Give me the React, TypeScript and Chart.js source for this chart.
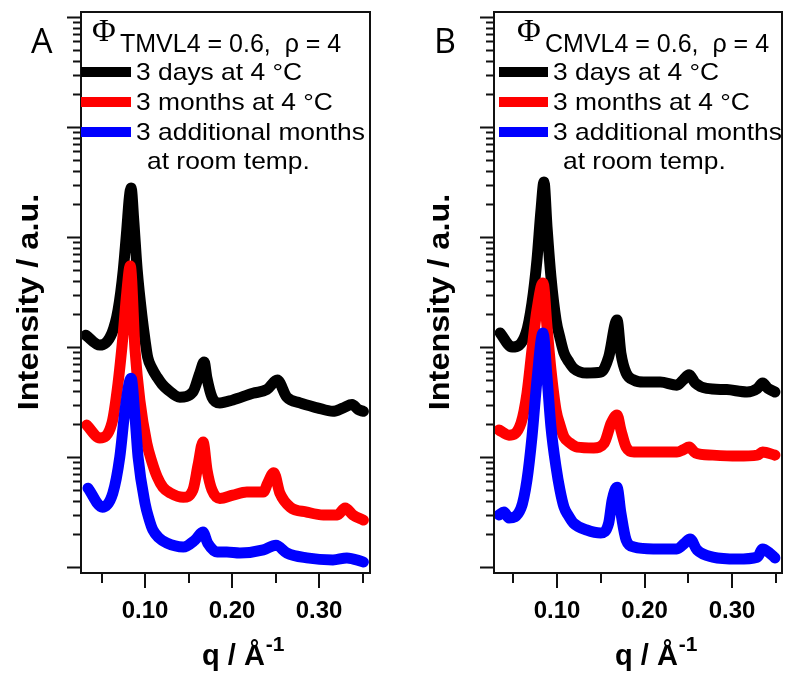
import React, { useEffect, useRef } from "react";
import { Chart, registerables } from "chart.js";

Chart.register(...registerables);

const W = 787;
const H = 673;

// ---------- Data (q in 1/Å, intensity in a.u., log scale) ----------
// Panel A  (Φ TMVL4)
const Q_BLACK_A = [0.032, 0.048, 0.062, 0.069, 0.075, 0.079, 0.082, 0.084, 0.087, 0.091, 0.097, 0.100, 0.103, 0.108, 0.114, 0.1195, 0.126, 0.140, 0.155, 0.163, 0.168, 0.171, 0.177, 0.186, 0.201, 0.224, 0.240, 0.252, 0.263, 0.278, 0.298, 0.316, 0.328, 0.338, 0.345, 0.351];
const I_BLACK_A = [128, 104, 134, 217, 501, 1160, 2310, 2790, 1430, 501, 176, 116, 81, 64, 53, 46, 41, 35, 39, 58, 73, 53, 35, 31, 33, 38, 41, 50, 35, 31, 28, 26, 28, 30, 27, 26];

const Q_RED_A = [0.033, 0.048, 0.062, 0.069, 0.075, 0.079, 0.083, 0.0885, 0.094, 0.102, 0.108, 0.114, 0.1207, 0.129, 0.144, 0.155, 0.161, 0.1667, 0.1713, 0.177, 0.186, 0.201, 0.217, 0.236, 0.241, 0.248, 0.255, 0.267, 0.286, 0.305, 0.321, 0.330, 0.339, 0.351];
const I_RED_A = [19.5, 14.9, 20.4, 47, 134, 310, 545, 94, 33, 13.4, 9.0, 6.6, 5.3, 4.7, 4.3, 5.0, 8.5, 13.7, 7.6, 5.0, 4.2, 4.5, 4.8, 4.8, 5.8, 7.2, 4.7, 3.5, 3.16, 2.97, 2.97, 3.44, 2.97, 2.67];

const Q_BLUE_A = [0.0345, 0.051, 0.063, 0.071, 0.077, 0.084, 0.0885, 0.092, 0.100, 0.1046, 0.109, 0.116, 0.125, 0.144, 0.1575, 0.1665, 0.172, 0.183, 0.194, 0.209, 0.236, 0.2505, 0.263, 0.286, 0.316, 0.332, 0.351];
const I_BLUE_A = [5.2, 3.5, 4.7, 10, 26.7, 52, 23, 10, 3.8, 2.73, 2.17, 1.84, 1.65, 1.52, 1.76, 2.08, 1.65, 1.37, 1.37, 1.34, 1.43, 1.58, 1.34, 1.21, 1.16, 1.21, 1.11];

// Panel B  (Φ CMVL4)
const Q_BLACK_B = [0.035, 0.0486, 0.0646, 0.0714, 0.0771, 0.0817, 0.0851, 0.0886, 0.0931, 0.0989, 0.1034, 0.108, 0.1137, 0.119, 0.134, 0.150, 0.159, 0.1686, 0.173, 0.179, 0.188, 0.199, 0.218, 0.237, 0.244, 0.251, 0.258, 0.271, 0.294, 0.317, 0.329, 0.335, 0.341, 0.349];
const I_BLACK_B = [134, 100, 134, 251, 618, 1760, 3160, 1230, 433, 176, 121, 88, 73, 64, 58, 59, 81, 176, 88, 58, 50, 48, 48, 45, 50, 56, 47, 42, 41, 39, 42, 47, 42, 39];

const Q_RED_B = [0.0337, 0.0451, 0.0589, 0.0657, 0.0714, 0.0771, 0.084, 0.0886, 0.0931, 0.0989, 0.1034, 0.108, 0.1149, 0.123, 0.142, 0.154, 0.162, 0.1686, 0.173, 0.179, 0.188, 0.210, 0.237, 0.244, 0.251, 0.258, 0.278, 0.306, 0.329, 0.335, 0.349];
const I_RED_B = [17.6, 15.8, 20.4, 38, 94, 217, 382, 152, 62, 26.7, 19.5, 15.2, 13.4, 12.3, 12.1, 13.4, 20.4, 24.1, 17.6, 12.3, 11.1, 11.1, 11.1, 11.6, 12.3, 10.9, 10.4, 10.2, 10.4, 11.1, 10.4];

const Q_BLUE_B = [0.0337, 0.0394, 0.0451, 0.0589, 0.0657, 0.0714, 0.0771, 0.084, 0.0886, 0.0931, 0.0989, 0.1034, 0.108, 0.1126, 0.119, 0.134, 0.150, 0.159, 0.163, 0.1686, 0.173, 0.179, 0.188, 0.210, 0.237, 0.246, 0.252, 0.260, 0.278, 0.306, 0.329, 0.335, 0.343, 0.349];
const I_BLUE_B = [2.97, 3.16, 2.79, 3.44, 6.2, 15.2, 50, 134, 53, 18.7, 8.1, 5.0, 3.5, 2.97, 2.5, 2.17, 2.04, 2.5, 4.06, 5.3, 3.1, 1.76, 1.52, 1.46, 1.46, 1.65, 1.8, 1.43, 1.23, 1.18, 1.23, 1.46, 1.34, 1.21];

const SERIES_LABELS = ["3 days at 4 °C", "3 months at 4 °C", "3 additional months"];
const SERIES_LABEL_CONT = "at room temp.";
const SERIES_COLORS = ["#000000", "#ff0000", "#0000ff"];

const X_MAJOR = [0.1, 0.2, 0.3];
const X_MAJOR_LABELS = ["0.10", "0.20", "0.30"];
const X_MINOR = [0.05, 0.15, 0.25, 0.35];
const Y_DECADES = [0, 1, 2, 3, 4, 5];
const Y_MIN = 0.882;
const Y_MAX = 111000;

const SANS = "'Liberation Sans', Arial, Helvetica, sans-serif";
const SERIF = "'Liberation Serif', 'Times New Roman', serif";

type Panel = {
  letter: string;
  sub: string;
  area: { l: number; r: number; t: number; b: number };
  xMin: number;
  xMax: number;
  q: number[][];
  v: number[][];
  letterX: number;
  yTitleX: number;
  xTitleX: number;
  phiX: number;
  subX: number;
  legLine: [number, number];
  legTextX: number;
  roomX: number;
};

const PANELS: Panel[] = [
  {
    letter: "A",
    sub: "TMVL4 = 0.6,  ρ = 4",
    area: { l: 81, r: 370, t: 12, b: 573 },
    xMin: 0.0264,
    xMax: 0.3586,
    q: [Q_BLACK_A, Q_RED_A, Q_BLUE_A],
    v: [I_BLACK_A, I_RED_A, I_BLUE_A],
    letterX: 31,
    yTitleX: 30,
    xTitleX: 202,
    phiX: 92,
    subX: 120,
    legLine: [81, 131],
    legTextX: 136,
    roomX: 147,
  },
  {
    letter: "B",
    sub: "CMVL4 = 0.6,  ρ = 4",
    area: { l: 494, r: 782, t: 12, b: 573 },
    xMin: 0.028,
    xMax: 0.3571,
    q: [Q_BLACK_B, Q_RED_B, Q_BLUE_B],
    v: [I_BLACK_B, I_RED_B, I_BLUE_B],
    letterX: 434,
    yTitleX: 441,
    xTitleX: 615,
    phiX: 517,
    subX: 545,
    legLine: [499, 548],
    legTextX: 553,
    roomX: 563,
  },
];

function drawText(
  ctx: CanvasRenderingContext2D,
  s: string,
  x: number,
  y: number,
  font: string,
  align: CanvasTextAlign = "left",
  sx = 1,
  rot = 0,
  baseline: CanvasTextBaseline = "alphabetic"
) {
  ctx.save();
  ctx.font = font;
  ctx.fillStyle = "#000";
  ctx.textAlign = align;
  ctx.textBaseline = baseline;
  ctx.translate(x, y);
  if (rot) ctx.rotate(rot);
  ctx.scale(sx, 1);
  ctx.fillText(s, 0, 0);
  ctx.restore();
}

function makeDecor(p: Panel) {
  return {
    id: "decor" + p.letter,
    afterDraw(chart: any) {
      const ctx: CanvasRenderingContext2D = chart.ctx;
      const xs = chart.scales.x;
      const ys = chart.scales.y;
      const a = chart.chartArea;
      ctx.save();
      ctx.strokeStyle = "#111";
      ctx.lineWidth = 2;
      ctx.strokeRect(a.left, a.top, a.right - a.left, a.bottom - a.top);

      // y ticks (log)
      ctx.beginPath();
      for (const d of Y_DECADES) {
        for (let m = 1; m <= 9; m++) {
          const val = m * Math.pow(10, d);
          if (val < Y_MIN || val > Y_MAX) continue;
          const y = Math.round(ys.getPixelForValue(val)) + 0.5;
          const len = m === 1 ? 14 : 8;
          ctx.moveTo(a.left - len, y);
          ctx.lineTo(a.left, y);
        }
      }
      // x ticks
      for (const t of X_MAJOR) {
        const x = Math.round(xs.getPixelForValue(t));
        ctx.moveTo(x, a.bottom);
        ctx.lineTo(x, a.bottom + 15);
      }
      for (const t of X_MINOR) {
        const x = Math.round(xs.getPixelForValue(t));
        ctx.moveTo(x, a.bottom);
        ctx.lineTo(x, a.bottom + 10);
      }
      ctx.stroke();
      ctx.restore();

      // x tick labels
      X_MAJOR.forEach((t, i) => {
        drawText(ctx, X_MAJOR_LABELS[i], xs.getPixelForValue(t), 618, `bold 24px ${SANS}`, "center");
      });

      // x title
      ctx.save();
      ctx.font = `bold 29px ${SANS}`;
      const base = "q / Å";
      const wBase = ctx.measureText(base).width;
      ctx.restore();
      drawText(ctx, base, p.xTitleX, 665, `bold 29px ${SANS}`, "left");
      drawText(ctx, "-1", p.xTitleX + wBase + 1, 651, `bold 21px ${SANS}`, "left");

      // y title
      drawText(ctx, "Intensity / a.u.", p.yTitleX, 302, `bold 29px ${SANS}`, "center", 1.12, -Math.PI / 2, "middle");

      // panel letter
      drawText(ctx, p.letter, p.letterX, 53, `34px 'Open Sans', ${SANS}`, "left");

      // legend title
      drawText(ctx, "Φ", p.phiX, 41, `31px ${SERIF}`, "left", 1.05);
      drawText(ctx, p.sub, p.subX, 52, `25px ${SANS}`, "left");

      // legend lines and labels
      const rows = [72, 102, 132];
      rows.forEach((ry, i) => {
        ctx.save();
        ctx.strokeStyle = SERIES_COLORS[i];
        ctx.lineWidth = 10;
        ctx.lineCap = "butt";
        ctx.beginPath();
        ctx.moveTo(p.legLine[0], ry);
        ctx.lineTo(p.legLine[1], ry);
        ctx.stroke();
        ctx.restore();
        drawText(ctx, SERIES_LABELS[i], p.legTextX, ry + 8, `24px ${SANS}`, "left", 1.1);
      });
      drawText(ctx, SERIES_LABEL_CONT, p.roomX, 169, `24px ${SANS}`, "left", 1.1);
    },
  };
}

function PanelChart({ p }: { p: Panel }) {
  const ref = useRef<HTMLCanvasElement>(null);
  useEffect(() => {
    const canvas = ref.current!;
    const datasets = p.q.map((qs, i) => ({
      label: SERIES_LABELS[i],
      data: qs.map((q, j) => ({ x: q, y: p.v[i][j] })),
      borderColor: SERIES_COLORS[i],
      backgroundColor: SERIES_COLORS[i],
      borderWidth: 11,
      pointRadius: 0,
      fill: false,
      cubicInterpolationMode: "monotone" as const,
      borderCapStyle: "round" as const,
      borderJoinStyle: "round" as const,
      order: 3 - i,
    }));
    const chart = new Chart(canvas, {
      type: "line",
      data: { datasets },
      options: {
        responsive: false,
        animation: false,
        devicePixelRatio: 1,
        layout: { padding: { left: 0, top: p.area.t, right: W - p.area.r, bottom: 0 } },
        plugins: { legend: { display: false }, tooltip: { enabled: false } },
        scales: {
          x: {
            type: "linear",
            min: p.xMin,
            max: p.xMax,
            grid: { display: false },
            border: { display: false },
            ticks: { display: false },
            afterFit: (s: any) => {
              s.height = H - p.area.b;
            },
          },
          y: {
            type: "logarithmic",
            min: Y_MIN,
            max: Y_MAX,
            grid: { display: false },
            border: { display: false },
            ticks: { display: false },
            afterFit: (s: any) => {
              s.width = p.area.l;
            },
          },
        },
      },
      plugins: [makeDecor(p)],
    } as any);
    return () => chart.destroy();
  }, [p]);
  return (
    <canvas
      ref={ref}
      width={W}
      height={H}
      style={{ position: "absolute", left: 0, top: 0, width: W, height: H }}
    />
  );
}

export default function App() {
  return (
    <div style={{ position: "fixed", left: 0, top: 0, width: W, height: H, background: "#fff" }}>
      {PANELS.map((p) => (
        <PanelChart key={p.letter} p={p} />
      ))}
    </div>
  );
}
